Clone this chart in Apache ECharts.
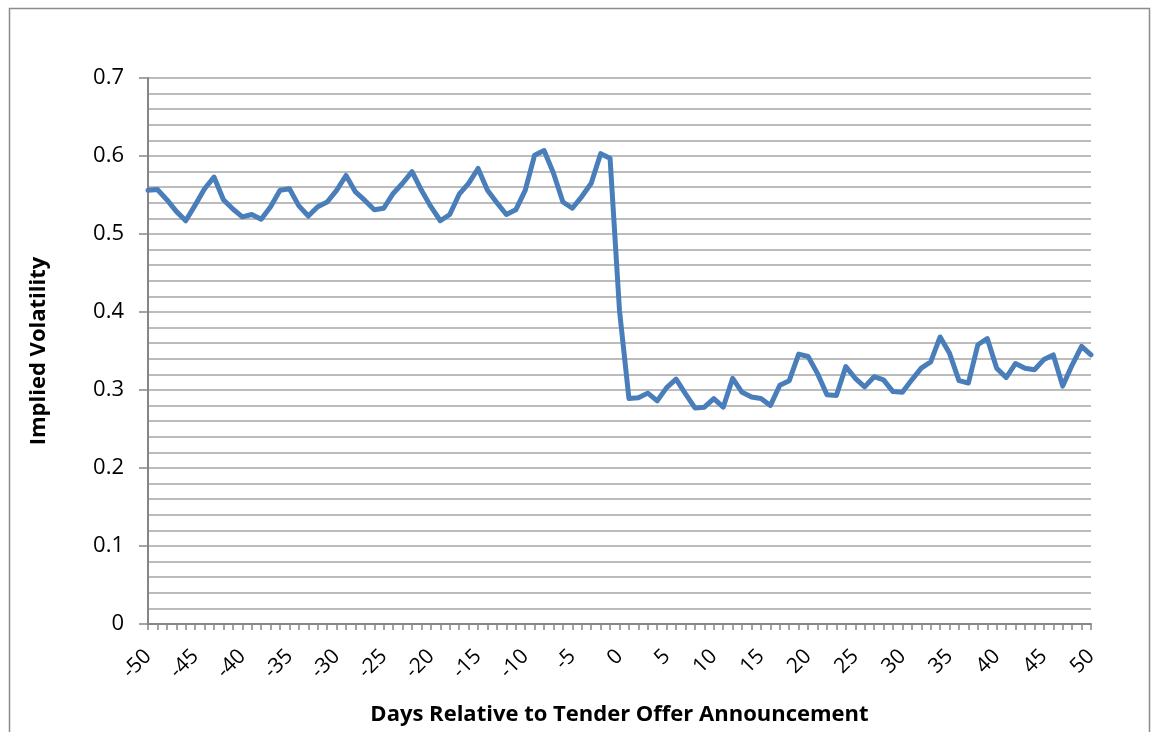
<!DOCTYPE html>
<html>
<head>
<meta charset="utf-8">
<script src="https://cdn.jsdelivr.net/npm/echarts@6/dist/echarts.min.js"></script>
<style>
  html, body { margin: 0; padding: 0; background: #fff; }
  #chart { width: 1158px; height: 732px; }
</style>
</head>
<body>
<div id="chart"></div>
<script>
// days relative to the announcement
const days = [
  -50, -49, -48, -47, -46, -45, -44, -43, -42, -41, -40, -39, -38, -37, -36, -35, -34,
  -33, -32, -31, -30, -29, -28, -27, -26, -25, -24, -23, -22, -21, -20, -19, -18, -17,
  -16, -15, -14, -13, -12, -11, -10, -9, -8, -7, -6, -5, -4, -3, -2, -1, 0,
  1, 2, 3, 4, 5, 6, 7, 8, 9, 10, 11, 12, 13, 14, 15, 16, 17, 18, 19, 20,
  21, 22, 23, 24, 25, 26, 27, 28, 29, 30, 31, 32, 33, 34, 35, 36, 37, 38, 39, 40,
  41, 42, 43, 44, 45, 46, 47, 48, 49, 50
]

// implied volatility, day -50 .. -1
const volBefore = [
  0.556, 0.557, 0.544, 0.529, 0.517, 0.537, 0.558, 0.573, 0.544, 0.532,
  0.522, 0.525, 0.519, 0.535, 0.556, 0.558, 0.536, 0.523, 0.535, 0.541,
  0.556, 0.575, 0.554, 0.543, 0.531, 0.533, 0.552, 0.565, 0.580, 0.556,
  0.535, 0.517, 0.525, 0.551, 0.565, 0.584, 0.556, 0.540, 0.525, 0.531,
  0.556, 0.601, 0.607, 0.578, 0.541, 0.533, 0.548, 0.565, 0.603, 0.597
]
// day 0 .. 50
const volAfter = [
  0.402, 0.289, 0.290, 0.296, 0.286, 0.303, 0.314, 0.295, 0.277, 0.278,
  0.289, 0.278, 0.315, 0.297, 0.291, 0.289, 0.280, 0.306, 0.312, 0.346,
  0.343, 0.321, 0.294, 0.293, 0.330, 0.315, 0.304, 0.317, 0.313, 0.298,
  0.297, 0.313, 0.328, 0.336, 0.368, 0.347, 0.312, 0.309, 0.358, 0.366,
  0.328, 0.316, 0.334, 0.328, 0.326, 0.339, 0.345, 0.305, 0.332, 0.356,
  0.345
]

const yTicks = [0, 0.1, 0.2, 0.3, 0.4, 0.5, 0.6, 0.7]

const volatility = volBefore.concat(volAfter)
const font = "'Open Sans', 'Liberation Sans', sans-serif"

let option = {
  backgroundColor: "#fff",
  animation: false,
  graphic: [
    {
      type: "rect",
      shape: { x: 9.5, y: 8.5, width: 1140, height: 740 },
      style: { fill: "none", stroke: "#8c8c8c", lineWidth: 1.5 },
      silent: true
    }
  ],
  grid: {
    left: 148,
    right: 67,
    top: 78,
    bottom: 108
  },
  xAxis: {
    type: "category",
    data: days.map(String),
    boundaryGap: false,
    name: "Days Relative to Tender Offer Announcement",
    nameLocation: "middle",
    nameGap: 80,
    nameTextStyle: { fontFamily: font, fontSize: 22, fontWeight: "bold", color: "#000" },
    axisLine: { lineStyle: { color: "#868686", width: 2 } },
    axisTick: { show: true, interval: 0, length: 6, lineStyle: { color: "#868686", width: 1.5 } },
    axisLabel: {
      interval: 4,
      rotate: 45,
      margin: 29,
      fontFamily: font,
      fontSize: 21,
      color: "#000"
    },
    splitLine: { show: false }
  },
  yAxis: {
    type: "value",
    min: yTicks[0],
    max: yTicks[yTicks.length - 1],
    interval: 0.1,
    name: "Implied Volatility",
    nameLocation: "middle",
    nameGap: 98,
    nameRotate: 90,
    nameTextStyle: { fontFamily: font, fontSize: 22, fontWeight: "bold", color: "#000" },
    axisLine: { show: true, lineStyle: { color: "#868686", width: 2 } },
    axisTick: { show: true, length: 9, lineStyle: { color: "#868686", width: 1.5 } },
    axisLabel: {
      margin: 24,
      fontFamily: font,
      fontSize: 22,
      color: "#000",
      formatter: function (v) {
        return String(+v.toFixed(1))
      }
    },
    splitLine: { show: true, lineStyle: { color: "#bcbcbc", width: 2 } },
    minorTick: { show: false, splitNumber: 5 },
    minorSplitLine: { show: true, lineStyle: { color: "#bcbcbc", width: 2 } }
  },
  series: [
    {
      type: "line",
      data: volatility,
      showSymbol: false,
      symbol: "none",
      lineStyle: { color: "#4a7ebb", width: 5, join: "round", cap: "round" },
      itemStyle: { color: "#4a7ebb" }
    }
  ]
}

const dom = document.getElementById("chart")
const myChart = echarts.init(dom, null, { renderer: "canvas" })
myChart.setOption(option)
window.addEventListener("resize", function () {
  myChart.resize()
})
</script>
</body>
</html>
